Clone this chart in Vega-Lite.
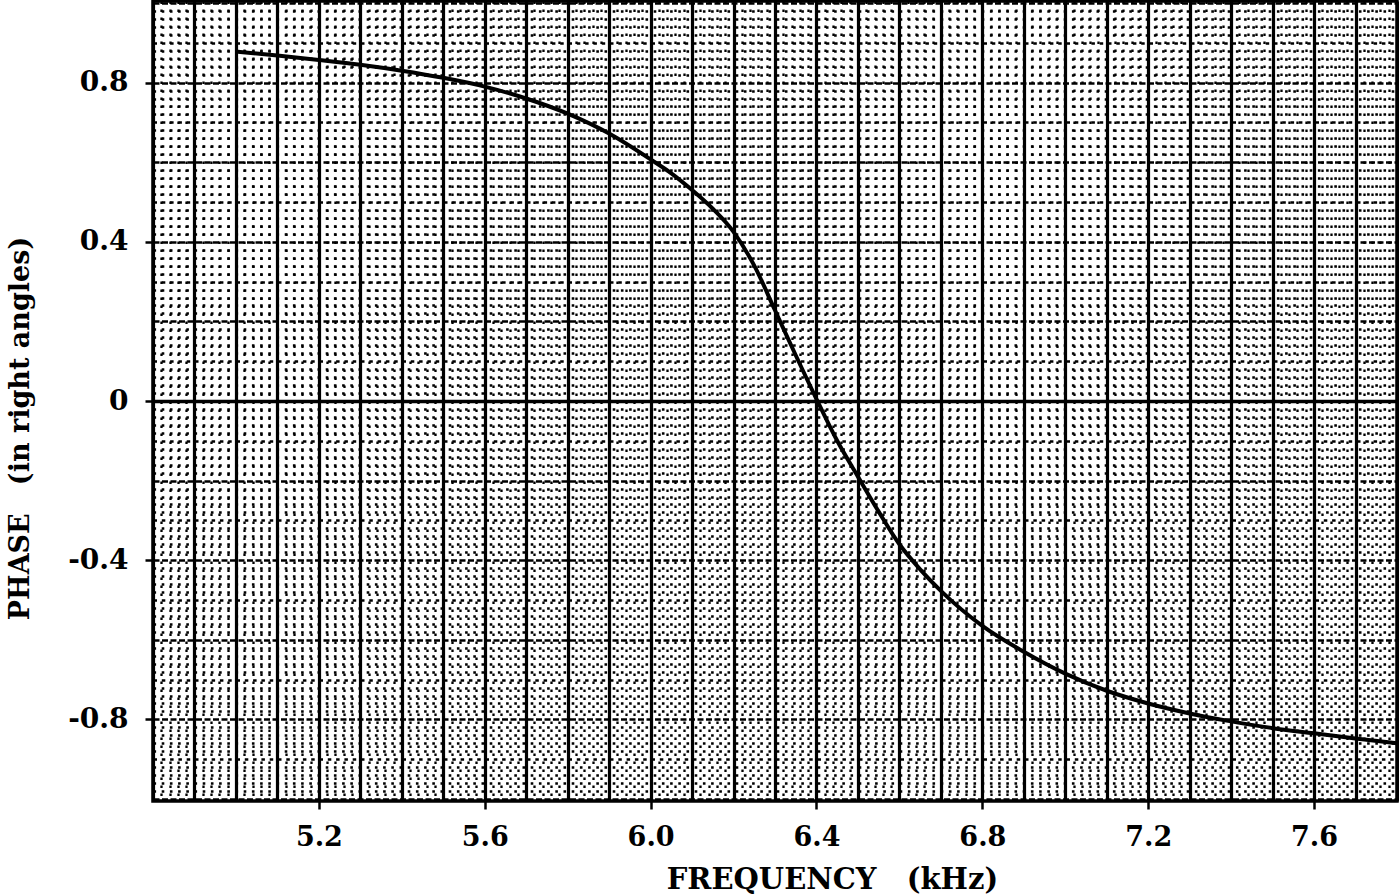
{
  "$schema": "https://vega.github.io/schema/vega-lite/v6.json",
  "width": 1244,
  "height": 800,
  "autosize": {"type": "none"},
  "padding": {"left": 153, "top": 1, "right": 2, "bottom": 95},
  "background": "white",
  "config": {
    "view": {"stroke": "#000", "strokeWidth": 3.5},
    "font": "DejaVu Serif"
  },
  "data": {
    "values": [
      {"f": 5.0, "p": 0.878},
      {"f": 5.1, "p": 0.868},
      {"f": 5.2, "p": 0.857},
      {"f": 5.3, "p": 0.845},
      {"f": 5.4, "p": 0.830},
      {"f": 5.5, "p": 0.812},
      {"f": 5.6, "p": 0.790},
      {"f": 5.7, "p": 0.760},
      {"f": 5.8, "p": 0.722},
      {"f": 5.9, "p": 0.672},
      {"f": 6.0, "p": 0.607},
      {"f": 6.05, "p": 0.572},
      {"f": 6.1, "p": 0.530},
      {"f": 6.15, "p": 0.483},
      {"f": 6.2, "p": 0.425},
      {"f": 6.25, "p": 0.340},
      {"f": 6.3, "p": 0.228},
      {"f": 6.35, "p": 0.115},
      {"f": 6.4, "p": 0.005},
      {"f": 6.45, "p": -0.100},
      {"f": 6.5, "p": -0.190},
      {"f": 6.55, "p": -0.278},
      {"f": 6.6, "p": -0.360},
      {"f": 6.65, "p": -0.423},
      {"f": 6.7, "p": -0.477},
      {"f": 6.8, "p": -0.565},
      {"f": 6.9, "p": -0.630},
      {"f": 7.0, "p": -0.685},
      {"f": 7.1, "p": -0.728},
      {"f": 7.2, "p": -0.760},
      {"f": 7.3, "p": -0.785},
      {"f": 7.4, "p": -0.805},
      {"f": 7.5, "p": -0.822},
      {"f": 7.6, "p": -0.835},
      {"f": 7.7, "p": -0.848},
      {"f": 7.8, "p": -0.860}
    ]
  },
  "mark": {"type": "line", "color": "#000", "strokeWidth": 4, "interpolate": "monotone"},
  "encoding": {
    "x": {
      "field": "f",
      "type": "quantitative",
      "scale": {"domain": [4.8, 7.8], "nice": false, "zero": false},
      "axis": {
        "title": "FREQUENCY\u00a0\u00a0\u00a0(kHz)",
        "titleFont": "DejaVu Serif",
        "titleFontWeight": "bold",
        "titleFontSize": 29,
        "titleColor": "#000",
        "titleX": 679,
        "titleY": 78,
        "titleAlign": "center",
        "titleBaseline": "middle",
        "tickCount": 150,
        "domain": false,
        "grid": true,
        "gridColor": "#000",
        "gridOpacity": 1,
        "gridWidth": {"condition": {"test": "abs(datum.value*10-round(datum.value*10))<0.01", "value": 3.2}, "value": 2.3},
        "gridDash": {"condition": {"test": "abs(datum.value*10-round(datum.value*10))<0.01", "value": []}, "value": [2.6, 5.4]},
        "ticks": true,
        "tickSize": 8,
        "tickWidth": 2.5,
        "tickColor": {"condition": {"test": "abs(datum.value*2.5-round(datum.value*2.5))<0.01 && datum.value>5 && datum.value<7.7", "value": "#000"}, "value": "transparent"},
        "labelExpr": "abs(datum.value*2.5-round(datum.value*2.5))<0.01 && datum.value>5 && datum.value<7.7 ? format(datum.value,'.1f') : ''",
        "labelOverlap": false,
        "labelFlush": false,
        "labelFont": "DejaVu Serif",
        "labelFontWeight": "bold",
        "labelFontSize": 27,
        "labelColor": "#000",
        "labelPadding": 15
      }
    },
    "y": {
      "field": "p",
      "type": "quantitative",
      "scale": {"domain": [-1.005, 1.005], "nice": false, "zero": false},
      "axis": {
        "title": "PHASE\u00a0\u00a0\u00a0(in right angles)",
        "titleFont": "DejaVu Serif",
        "titleFontWeight": "bold",
        "titleFontSize": 27,
        "titleColor": "#000",
        "titleAngle": -90,
        "titleX": -133,
        "titleY": 427,
        "titleAlign": "center",
        "titleBaseline": "middle",
        "tickCount": 100,
        "domain": false,
        "grid": true,
        "gridColor": "#000",
        "gridOpacity": 1,
        "gridWidth": {"condition": [
          {"test": "abs(datum.value)<0.001", "value": 3.5},
          {"test": "abs(datum.value*10-round(datum.value*10))<0.01", "value": 2.6}
        ], "value": 2.3},
        "gridDash": {"condition": [
          {"test": "abs(datum.value)<0.001", "value": []},
          {"test": "abs(datum.value*5-round(datum.value*5))<0.01", "value": [6, 2.5]},
          {"test": "abs(datum.value*10-round(datum.value*10))<0.01", "value": [3.5, 4.8]}
        ], "value": [2.6, 5.6]},
        "ticks": true,
        "tickSize": 8,
        "tickWidth": 2.5,
        "tickColor": {"condition": {"test": "abs(datum.value*2.5-round(datum.value*2.5))<0.01 && abs(datum.value)<0.95", "value": "#000"}, "value": "transparent"},
        "labelExpr": "abs(datum.value*2.5-round(datum.value*2.5))<0.01 && abs(datum.value)<0.95 ? (abs(datum.value)<0.001 ? '0' : replace(format(datum.value,'.1f'),'\u2212','-')) : ''",
        "labelOverlap": false,
        "labelFlush": false,
        "labelFont": "DejaVu Serif",
        "labelFontWeight": "bold",
        "labelFontSize": 28,
        "labelColor": "#000",
        "labelPadding": 17
      }
    }
  }
}
